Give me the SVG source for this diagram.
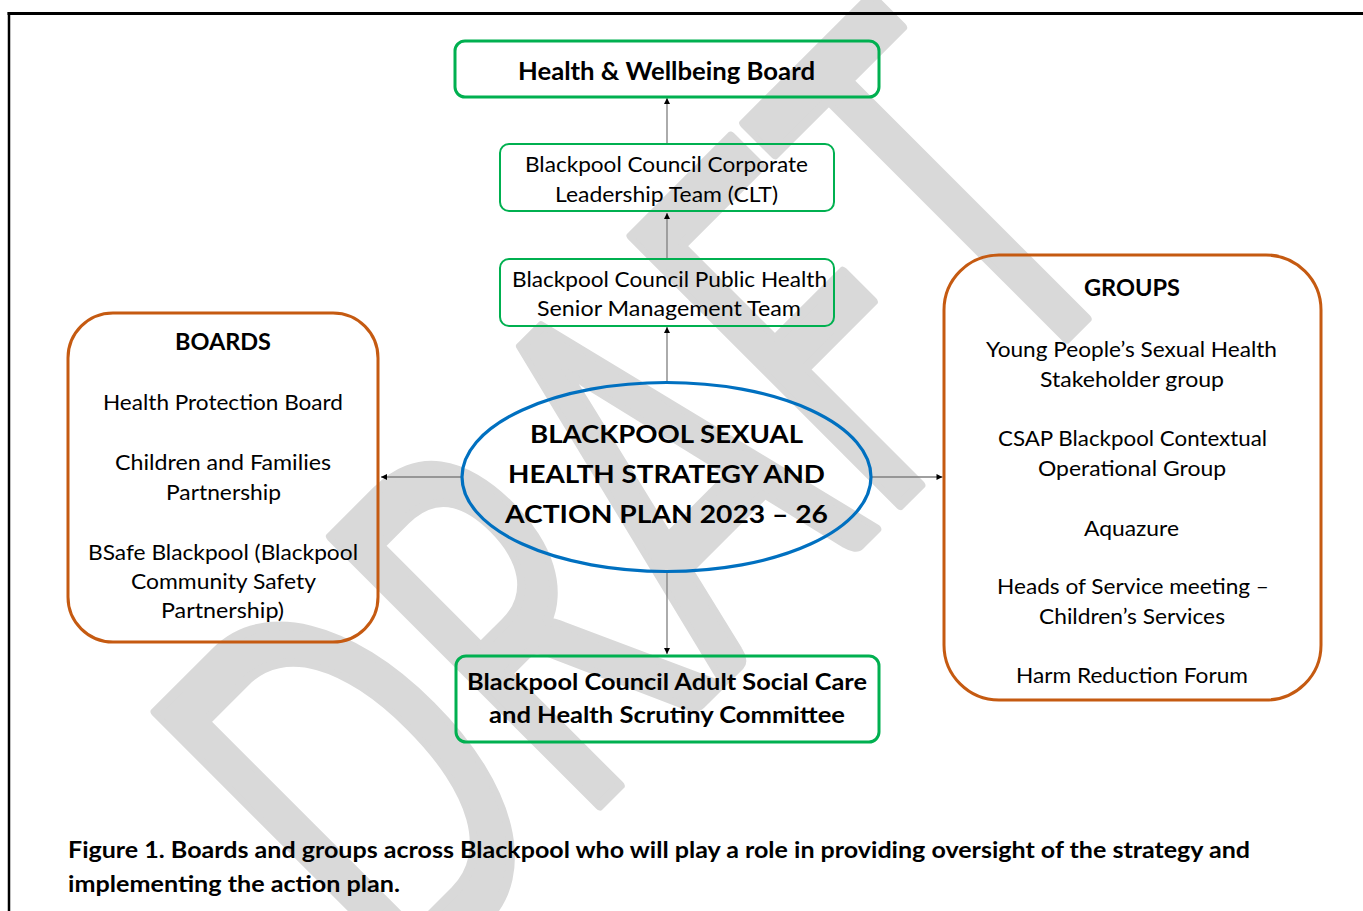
<svg xmlns="http://www.w3.org/2000/svg" width="1363" height="911" viewBox="0 0 1363 911">
  <style>
    .frame { stroke: #000; fill: none; }
    .box-green { fill: none; stroke: #00b050; }
    .box-orange { fill: none; stroke: #c55a11; stroke-width: 3; }
    .hub { fill: none; stroke: #0070c0; stroke-width: 3.2; }
    .conn { stroke: #7f7f7f; stroke-width: 1.3; fill: none; marker-end: url(#tip); }
    .t { font-family: Lato, "Open Sans", "Liberation Sans", sans-serif; fill: #000; }
    .r { font-size: 22px; }
    .b { font-weight: 700; }
    .watermark { font-family: Lato, "Open Sans", "Liberation Sans", sans-serif; font-size: 530px; fill: #d9d9d9; stroke: #d9d9d9; stroke-width: 10; stroke-linejoin: round; }
  </style>
  <defs>
    <marker id="tip" viewBox="0 0 10 10" refX="10" refY="5" markerWidth="7" markerHeight="6" markerUnits="userSpaceOnUse" orient="auto">
      <path d="M0,0 L10,5 L0,10 z" fill="#000"/>
    </marker>
  </defs>

  <rect width="1363" height="911" fill="#fff"/>

  <!-- background watermark -->
  <text class="watermark" x="0" y="0" transform="translate(402,1003) rotate(-45)" textLength="1050" lengthAdjust="spacingAndGlyphs">DRAFT</text>

  <!-- page frame -->
  <line class="frame" x1="7.5" y1="13.5" x2="1363" y2="13.5" stroke-width="3"/>
  <line class="frame" x1="9" y1="12" x2="9" y2="911" stroke-width="2.5"/>

  <!-- connectors -->
  <g id="connectors">
    <line class="conn" x1="667" y1="143" x2="667" y2="98"/>
    <line class="conn" x1="667" y1="258" x2="667" y2="213"/>
    <line class="conn" x1="667" y1="382" x2="667" y2="327"/>
    <line class="conn" x1="462" y1="477" x2="381" y2="477"/>
    <line class="conn" x1="871" y1="477" x2="942.5" y2="477"/>
    <line class="conn" x1="667" y1="572" x2="667" y2="654"/>
  </g>

  <g id="hwb-board">
    <rect class="box-green" x="455" y="41" width="424" height="56" rx="10" stroke-width="3"/>
    <text class="t b" x="518" y="80" font-size="25.5" textLength="297" lengthAdjust="spacingAndGlyphs">Health &amp; Wellbeing Board</text>
  </g>

  <g id="clt">
    <rect class="box-green" x="500" y="144" width="334" height="67" rx="9" stroke-width="2"/>
    <text class="t r" x="525" y="171.7" textLength="283" lengthAdjust="spacingAndGlyphs">Blackpool Council Corporate</text>
    <text class="t r" x="555" y="201.7" textLength="223" lengthAdjust="spacingAndGlyphs">Leadership Team (CLT)</text>
  </g>

  <g id="ph-smt">
    <rect class="box-green" x="500" y="259" width="334" height="67" rx="9" stroke-width="2"/>
    <text class="t r" x="512" y="286.7" textLength="315" lengthAdjust="spacingAndGlyphs">Blackpool Council Public Health</text>
    <text class="t r" x="537" y="316" textLength="264" lengthAdjust="spacingAndGlyphs">Senior Management Team</text>
  </g>

  <g id="strategy">
    <ellipse class="hub" cx="666.5" cy="477" rx="204.5" ry="94.5"/>
    <text class="t b" x="530" y="443" font-size="25.5" textLength="273" lengthAdjust="spacingAndGlyphs">BLACKPOOL SEXUAL</text>
    <text class="t b" x="508" y="483" font-size="25.5" textLength="317" lengthAdjust="spacingAndGlyphs">HEALTH STRATEGY AND</text>
    <text class="t b" x="505" y="522.7" font-size="25.5" textLength="323" lengthAdjust="spacingAndGlyphs">ACTION PLAN 2023 – 26</text>
  </g>

  <g id="boards">
    <rect class="box-orange" x="68" y="313" width="310" height="329" rx="45"/>
    <text class="t b" x="175" y="350" font-size="22.5" textLength="96" lengthAdjust="spacingAndGlyphs">BOARDS</text>
    <text class="t r" x="103" y="410" textLength="240" lengthAdjust="spacingAndGlyphs">Health Protection Board</text>
    <text class="t r" x="115" y="470" textLength="216" lengthAdjust="spacingAndGlyphs">Children and Families</text>
    <text class="t r" x="166" y="499.5" textLength="115" lengthAdjust="spacingAndGlyphs">Partnership</text>
    <text class="t r" x="88" y="560" textLength="270" lengthAdjust="spacingAndGlyphs">BSafe Blackpool (Blackpool</text>
    <text class="t r" x="131" y="589.3" textLength="185" lengthAdjust="spacingAndGlyphs">Community Safety</text>
    <text class="t r" x="161" y="618.3" textLength="123" lengthAdjust="spacingAndGlyphs">Partnership)</text>
  </g>

  <g id="groups">
    <rect class="box-orange" x="944" y="255" width="377" height="445" rx="55"/>
    <text class="t b" x="1084" y="296" font-size="23.5" textLength="96" lengthAdjust="spacingAndGlyphs">GROUPS</text>
    <text class="t r" x="986" y="357" textLength="291" lengthAdjust="spacingAndGlyphs">Young People’s Sexual Health</text>
    <text class="t r" x="1040" y="386.7" textLength="184" lengthAdjust="spacingAndGlyphs">Stakeholder group</text>
    <text class="t r" x="998" y="446" textLength="269" lengthAdjust="spacingAndGlyphs">CSAP Blackpool Contextual</text>
    <text class="t r" x="1038" y="476" textLength="188" lengthAdjust="spacingAndGlyphs">Operational Group</text>
    <text class="t r" x="1084" y="535.7" textLength="95" lengthAdjust="spacingAndGlyphs">Aquazure</text>
    <text class="t r" x="997" y="594.3" textLength="272" lengthAdjust="spacingAndGlyphs">Heads of Service meeting –</text>
    <text class="t r" x="1039" y="624.3" textLength="186" lengthAdjust="spacingAndGlyphs">Children’s Services</text>
    <text class="t r" x="1016" y="683.3" textLength="232" lengthAdjust="spacingAndGlyphs">Harm Reduction Forum</text>
  </g>

  <g id="scrutiny">
    <rect class="box-green" x="456" y="656" width="423" height="86" rx="10" stroke-width="3"/>
    <text class="t b" x="467" y="690" font-size="23" textLength="400" lengthAdjust="spacingAndGlyphs">Blackpool Council Adult Social Care</text>
    <text class="t b" x="489" y="723.3" font-size="23" textLength="356" lengthAdjust="spacingAndGlyphs">and Health Scrutiny Committee</text>
  </g>

  <g id="caption">
    <text class="t b" x="68" y="858.3" font-size="22" textLength="1182" lengthAdjust="spacingAndGlyphs">Figure 1. Boards and groups across Blackpool who will play a role in providing oversight of the strategy and</text>
    <text class="t b" x="68" y="891.7" font-size="22" textLength="332" lengthAdjust="spacingAndGlyphs">implementing the action plan.</text>
  </g>
</svg>
